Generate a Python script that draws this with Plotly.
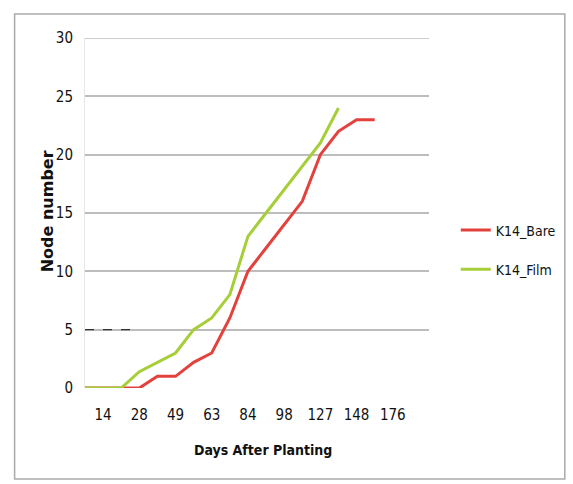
import plotly.graph_objects as go

# Categories (days after planting); only every second one is labelled on the axis
categories = ["7", "14", "21", "28", "35", "49", "56", "63", "70", "84",
              "91", "98", "113", "127", "134", "148", "162", "176", "190", "204"]
tick_labels = ["14", "28", "49", "63", "84", "98", "127", "148", "176"]
y_ticks = [0, 5, 10, 15, 20, 25, 30]

k14_bare = [0, 0, 0, 0, 1, 1, 2.2, 3, 6, 10, 12, 14, 16, 20, 22, 23, 23]
k14_film = [0, 0, 0, 1.4, 2.2, 3, 5, 6, 8, 13, 15, 17, 19, 21, 24]

FONT = "DejaVu Sans Condensed, Liberation Sans Narrow, DejaVu Sans, sans-serif"
BOLD_FONT = "DejaVu Sans, sans-serif"
RED = "#E2413C"
GREEN = "#A6CE39"
GRID = "#BDBDBD"

fig = go.Figure()
fig.add_trace(go.Scatter(x=categories[:len(k14_bare)], y=k14_bare, mode="lines",
                         name="K14_Bare", line=dict(color=RED, width=3),
                         legendgroup="a"))
fig.add_trace(go.Scatter(x=categories[:len(k14_film)], y=k14_film, mode="lines",
                         name="K14_Film", line=dict(color=GREEN, width=3),
                         legendgroup="b"))

# top gridline (plotly drops the one at the range edge)
fig.add_shape(type="line", xref="paper", yref="y", x0=0, x1=1,
              y0=y_ticks[-1], y1=y_ticks[-1], line=dict(color=GRID, width=1.5),
              layer="below")

# scan artefact dash at y=5
fig.add_shape(type="line", xref="x", yref="y", x0=0, x1=2.7, y0=5, y1=5,
              line=dict(color="#333333", width=1.2, dash="dash"))

# geometry helpers (pixels -> paper)
L, R, T, B = 85, 432, 38, 388
W, H = 573, 484
def px_to_paper_x(px):
    return (px - L) / (R - L)
def px_to_paper_y(py):
    return (B - py) / (B - T)

# outer chart border
fig.add_shape(type="rect", xref="paper", yref="paper",
              x0=px_to_paper_x(14), x1=px_to_paper_x(569),
              y0=px_to_paper_y(479), y1=px_to_paper_y(14),
              line=dict(color="#AAAAAA", width=1.5), layer="below")

# axis titles
fig.add_annotation(text="<b>Days After Planting</b>", xref="paper", yref="paper",
                   x=px_to_paper_x(265), y=px_to_paper_y(450), showarrow=False,
                   xanchor="center", yanchor="middle",
                   font=dict(family=FONT, size=14, color="#111111"))
fig.add_annotation(text="<b>Node number</b>", xref="paper", yref="paper",
                   x=px_to_paper_x(47), y=px_to_paper_y(211), showarrow=False,
                   textangle=-90, xanchor="center", yanchor="middle",
                   font=dict(family=BOLD_FONT, size=16, color="#111111"))

fig.update_layout(
    width=W, height=H,
    margin=dict(l=L, r=W - R, t=T, b=H - B),
    paper_bgcolor="white", plot_bgcolor="white",
    font=dict(family=FONT, size=15, color="#111111"),
    showlegend=True,
    legend=dict(x=px_to_paper_x(459), y=px_to_paper_y(250), xanchor="left", yanchor="middle",
                font=dict(family=FONT, size=14, color="#111111"),
                tracegroupgap=18, bgcolor="rgba(0,0,0,0)"),
    xaxis=dict(type="category", categoryorder="array", categoryarray=categories,
               range=[0, len(categories) - 1],
               tickvals=categories[1:18:2], ticktext=tick_labels,
               showgrid=False, zeroline=False, showline=False,
               ticks="", ticklabelstandoff=16,
               tickfont=dict(family=FONT, size=15)),
    yaxis=dict(range=[0, 30], tickvals=y_ticks,
               showgrid=True, gridcolor=GRID, gridwidth=1.5,
               zeroline=False, showline=True, linecolor="#E6E6E6", linewidth=1,
               ticks="", ticklabelstandoff=8,
               tickfont=dict(family=FONT, size=15)),
)

fig.write_html("out.html")
